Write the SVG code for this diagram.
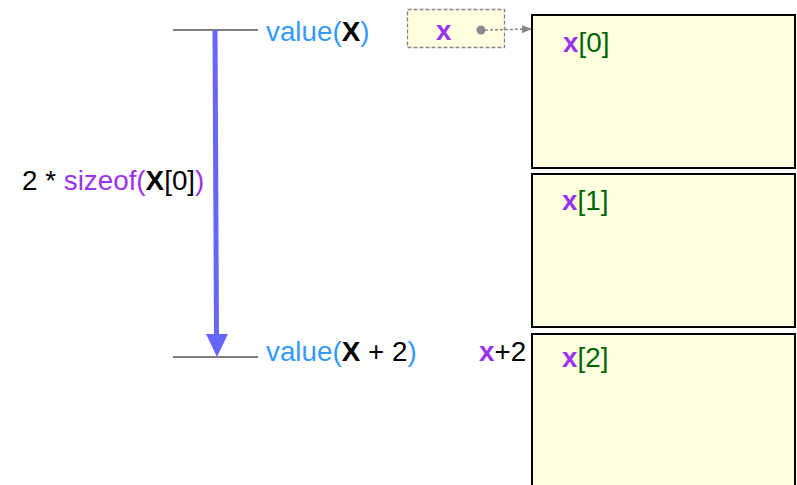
<svg xmlns="http://www.w3.org/2000/svg" width="797" height="485" viewBox="0 0 797 485">
<style>
text{font-family:"Liberation Sans",Arial,sans-serif;font-size:27.8px}
.bl{fill:#3399ff}.pu{fill:#9933ee}.gr{fill:#006600}.k{fill:#000}.b{font-weight:bold}
.mem{fill:#ffffe0;stroke:#000;stroke-width:2}
.tick{stroke:#555;stroke-width:1.5}
</style>
<defs>
<marker id="ah" markerWidth="10" markerHeight="8" refX="9" refY="4" orient="auto" markerUnits="userSpaceOnUse">
<path d="M0,0 L10,4 L0,8 z" fill="#888"/>
</marker>
</defs>
<g id="mem0"><rect class="mem" x="532" y="15" width="263" height="153"/><text x="563" y="52"><tspan class="pu b">x</tspan><tspan class="gr">[0]</tspan></text></g>
<g id="mem1"><rect class="mem" x="532" y="174" width="263" height="153"/><text x="562" y="210"><tspan class="pu b">x</tspan><tspan class="gr">[1]</tspan></text></g>
<g id="mem2"><rect class="mem" x="532" y="334" width="263" height="170"/><text x="562" y="367"><tspan class="pu b">x</tspan><tspan class="gr">[2]</tspan></text></g>
<g id="ptr"><rect x="407.5" y="9.5" width="97" height="38" fill="#ffffe0" stroke="#888" stroke-width="1.3" stroke-dasharray="4,2"/><text x="436" y="40" class="pu b">x</text><circle cx="481" cy="30" r="4.5" fill="#888"/></g>
<g id="top"><line class="tick" x1="173" y1="30" x2="258" y2="30"/><text x="266" y="41"><tspan class="bl">value(</tspan><tspan class="k b">X</tspan><tspan class="bl">)</tspan></text></g>
<g id="bottom"><line class="tick" x1="173" y1="357" x2="258" y2="357" stroke="#333"/><text x="266" y="361"><tspan class="bl">value(</tspan><tspan class="k b">X</tspan><tspan class="k"> + 2</tspan><tspan class="bl">)</tspan></text></g>
<g id="size"><text x="22" y="190"><tspan class="k">2 * </tspan><tspan class="pu">sizeof(</tspan><tspan class="k b">X</tspan><tspan class="k">[0]</tspan><tspan class="pu">)</tspan></text></g>
<g id="xp2"><text x="479" y="361"><tspan class="pu b">x</tspan><tspan class="k">+2</tspan></text></g>
<g id="connectors">
<line x1="215" y1="30" x2="216.5" y2="336" stroke="#6666ff" stroke-width="5"/>
<path d="M206,334 L228,334 L217,357 z" fill="#6666ff"/>
<line x1="485" y1="30" x2="531" y2="29" stroke="#888" stroke-width="1.5" stroke-dasharray="3,2" marker-end="url(#ah)"/>
</g>
</svg>
